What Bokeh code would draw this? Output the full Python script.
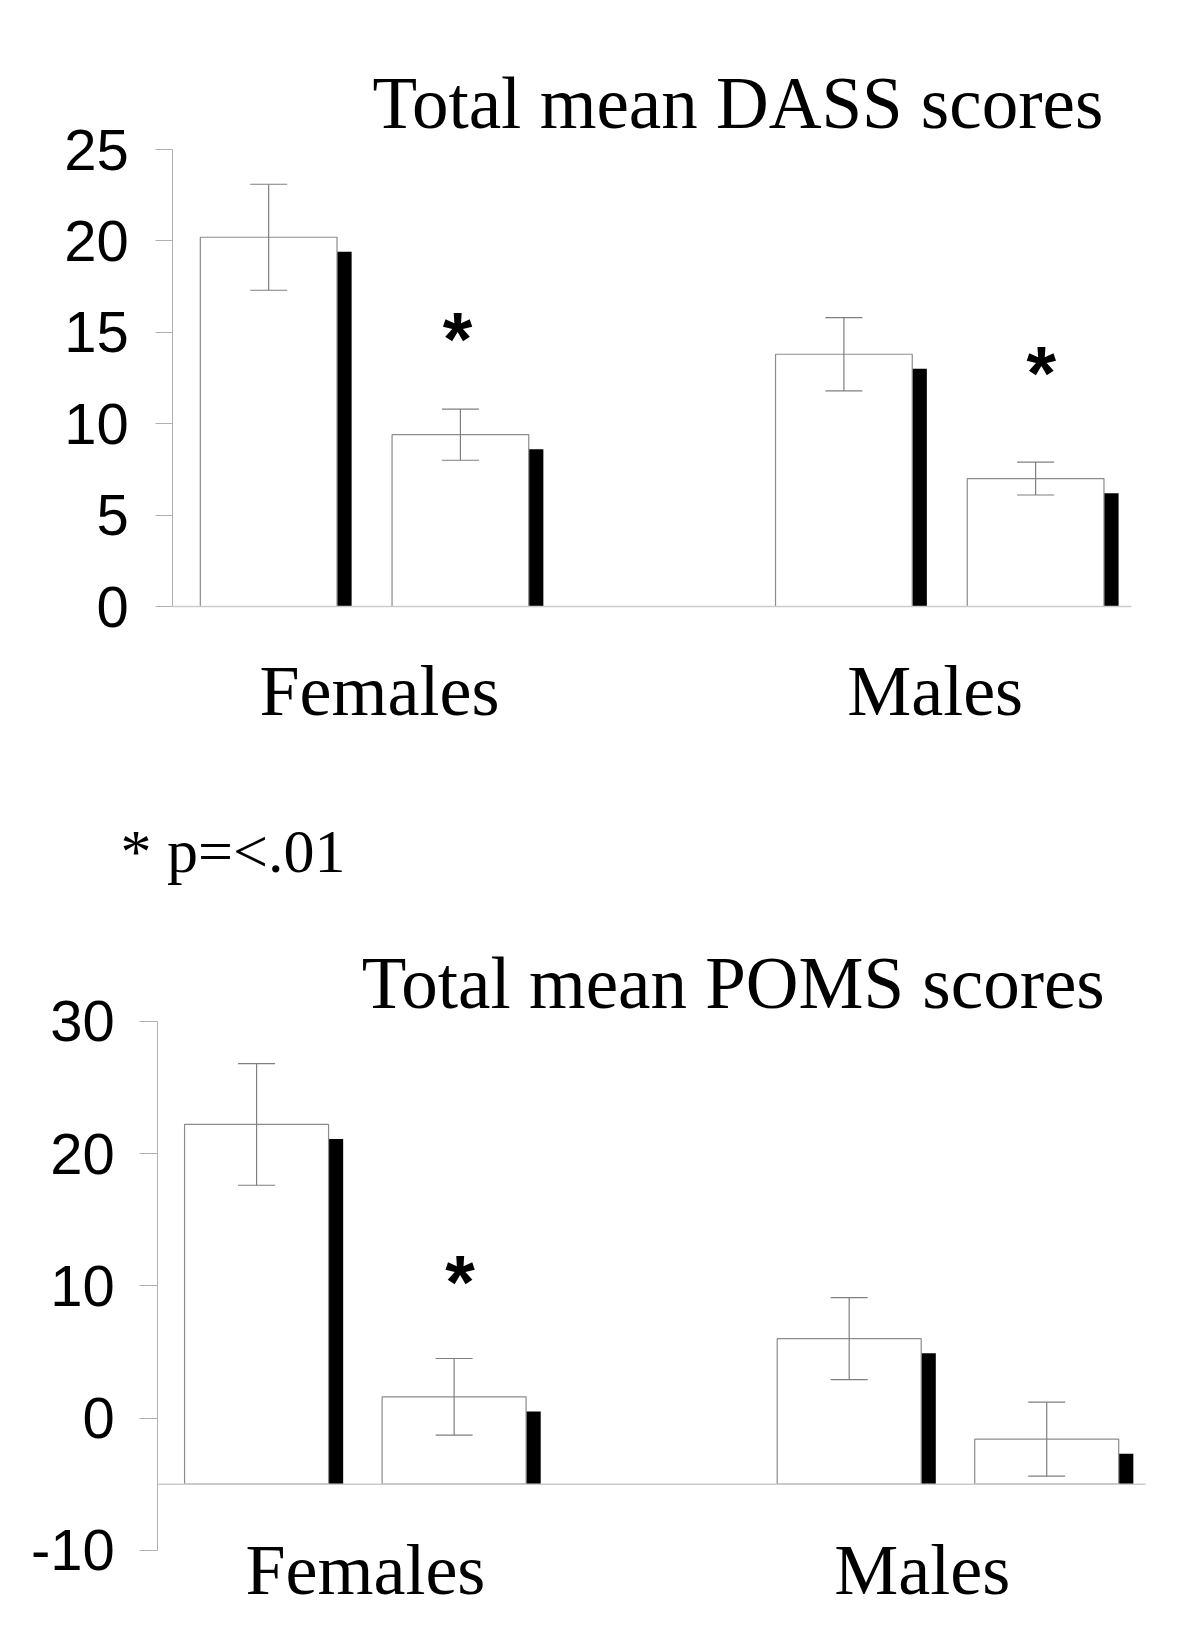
from bokeh.plotting import figure
from bokeh.models import Label, FixedTicker, Range1d
from bokeh.layouts import column
from bokeh.embed import file_html
from bokeh.resources import INLINE

# ---------------- data ----------------
groups = ["Females", "Males"]
conditions = ["first", "second"]          # two bars per group
dass_mean = [20.2, 9.4, 13.8, 7.0]        # Females-1, Females-2, Males-1, Males-2
dass_err = [2.9, 1.4, 2.0, 0.9]
dass_sig = [False, True, False, True]
poms_mean = [22.2, 1.6, 6.0, -1.6]
poms_err = [4.6, 2.9, 3.1, 2.8]
poms_sig = [False, True, False, False]
dass_ticks = [0, 5, 10, 15, 20, 25]
poms_ticks = [-10, 0, 10, 20, 30]
dass_title = "Total mean DASS scores"
poms_title = "Total mean POMS scores"
note_text = "* p=<.01"

SERIF = "Liberation Serif"
SANS = "Liberation Sans"
AXIS_GREY = "#b0b0b0"
EDGE_GREY = "#8c8c8c"
ERR_GREY = "#7f7f7f"
BASE_GREY = "#cccccc"
FIG_W = 1180
N_SLOTS = 5


def make_chart(mean, err, sig, ticks, bounds, base, fig_h, axis_px, slot_px,
               zero_px, unit_px, title, title_xy, label_x, label_y, star_dx,
               star_y, bar_frac, tick_out, standoff):
    # ranges chosen so that the axis sits at axis_px and y=0 at zero_px
    x0 = -axis_px / slot_px
    y1 = zero_px / unit_px
    p = figure(width=FIG_W, height=fig_h, frame_width=FIG_W, frame_height=fig_h,
               min_border=0, min_border_left=0, min_border_right=0,
               min_border_top=0, min_border_bottom=0,
               x_range=Range1d(x0, x0 + FIG_W / slot_px),
               y_range=Range1d(y1 - fig_h / unit_px, y1),
               x_axis_location=None, toolbar_location=None, output_backend="svg",
               background_fill_color="white", border_fill_color="white")
    p.outline_line_color = None
    p.grid.visible = False

    # slot positions derived from group / condition index
    xs = [g * 3 + c + 0.5 for g in range(len(groups)) for c in range(len(conditions))]
    dx = 14.6 / slot_px
    dy = 14.6 / unit_px

    # drop shadow
    p.vbar(x=[x + dx for x in xs], width=bar_frac, top=[m - dy for m in mean],
           bottom=base, fill_color="black", line_color=None)
    # bars
    p.vbar(x=xs, width=bar_frac, top=mean, bottom=base, fill_color="white",
           line_color=EDGE_GREY, line_width=1.2)
    # error bars
    hi = [m + e for m, e in zip(mean, err)]
    lo = [m - e for m, e in zip(mean, err)]
    p.segment(x0=xs, y0=lo, x1=xs, y1=hi, line_color=ERR_GREY, line_width=1.2)
    p.scatter(x=xs + xs, y=hi + lo, marker="dash", size=37,
              line_color=ERR_GREY, line_width=1.2)

    # baseline (category axis line)
    p.segment(x0=[0], y0=[base], x1=[N_SLOTS], y1=[base], line_color=BASE_GREY,
              line_width=1.5)

    # y axis, fixed at x = 0
    ax = p.yaxis[0]
    ax.fixed_location = 0
    ax.bounds = bounds
    ax.ticker = FixedTicker(ticks=ticks)
    ax.major_label_overrides = {t: str(t) for t in ticks}
    ax.axis_line_color = AXIS_GREY
    ax.major_tick_line_color = AXIS_GREY
    ax.minor_tick_line_color = None
    ax.major_tick_in = 0
    ax.major_tick_out = tick_out
    ax.major_label_standoff = standoff
    ax.major_label_text_font = SANS
    ax.major_label_text_font_size = "58px"
    ax.major_label_text_color = "black"

    # title
    p.add_layout(Label(x=title_xy[0], y=title_xy[1], text=title, text_font=SERIF,
                       text_font_size="73px", text_align="center",
                       text_baseline="alphabetic", text_color="black"))
    # category labels
    for name, lx in zip(groups, label_x):
        p.add_layout(Label(x=lx, y=label_y, text=name, text_font=SERIF,
                           text_font_size="72px", text_align="center",
                           text_baseline="alphabetic", text_color="black"))
    # significance stars
    for x, s, sdx, sy in zip(xs, sig, star_dx, star_y):
        if s:
            p.add_layout(Label(x=x + sdx, y=sy, text="*", text_font=SANS,
                               text_font_style="bold", text_font_size="76px",
                               text_align="center", text_baseline="alphabetic",
                               text_color="black"))
    return p


p1 = make_chart(dass_mean, dass_err, dass_sig, dass_ticks, (0, 25), 0,
                fig_h=900, axis_px=172.3, slot_px=191.74, zero_px=606,
                unit_px=18.28, title=dass_title, title_xy=(2.947, 27.53),
                label_x=[1.078, 3.976], label_y=-4.60,
                star_dx=[0, -0.015, 0, 0.03], star_y=[0, 14.67, 0, 12.81],
                bar_frac=0.713, tick_out=17, standoff=27)
p1.add_layout(Label(x=-0.273, y=-13.40, text=note_text, text_font=SERIF,
                    text_font_size="62px", text_align="left",
                    text_baseline="alphabetic", text_color="black"))

p2 = make_chart(poms_mean, poms_err, poms_sig, poms_ticks, (-10, 30), -5,
                fig_h=740, axis_px=157.3, slot_px=197.54, zero_px=517.5,
                unit_px=13.225, title=poms_title, title_xy=(2.913, 32.85),
                label_x=[1.051, 3.87], label_y=-11.46,
                star_dx=[0, 0.03, 0, 0], star_y=[0, 10.29, 0, 0],
                bar_frac=0.729, tick_out=18, standoff=25)

layout = column(p1, p2, spacing=0)
open("out.html", "w").write(file_html(layout, INLINE))
